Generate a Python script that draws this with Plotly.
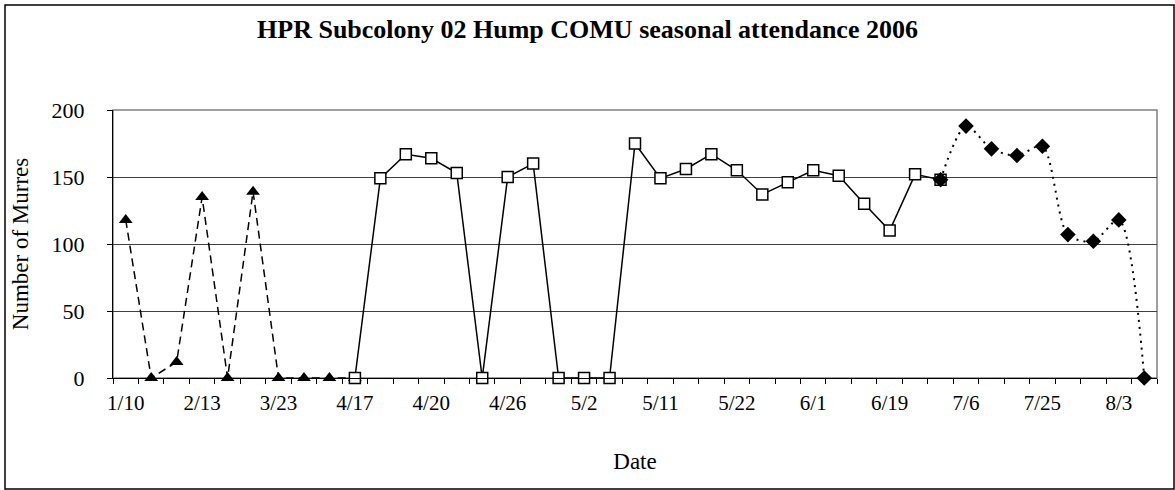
import plotly.graph_objects as go

# category axis: 41 survey dates, label shown on every third one
labels = ["1/10", "2/13", "3/23", "4/17", "4/20", "4/26", "5/2",
          "5/11", "5/22", "6/1", "6/19", "7/6", "7/25", "8/3"]
n_cat = 41

# three series (category index, count)
tri_x = list(range(1, 11))
tri_y = [118, 0, 12, 135, 0, 139, 0, 0, 0, 0]

sq_x = list(range(10, 34))
sq_y = [0, 149, 167, 164, 153, 0, 150, 160, 0, 0, 0, 175,
        149, 156, 167, 155, 137, 146, 155, 151, 130, 110, 152, 148]

dia_x = list(range(33, 42))
dia_y = [148, 188, 171, 166, 173, 107, 102, 118, 0]

font = "Liberation Serif"
W, H = 1175, 490
ml, mr, mt, mb = 113, 18, 110, 112

fig = go.Figure()

fig.add_trace(go.Scatter(
    x=tri_x, y=tri_y, mode="lines+markers", cliponaxis=False,
    line=dict(color="black", width=1.5, dash="8px,5px"),
    marker=dict(symbol="triangle-up", size=12, color="black"),
))
fig.add_trace(go.Scatter(
    x=sq_x, y=sq_y, mode="lines+markers", cliponaxis=False,
    line=dict(color="black", width=1.5),
    marker=dict(symbol="square", size=11, color="white",
                line=dict(color="black", width=1.5)),
))
fig.add_trace(go.Scatter(
    x=dia_x, y=dia_y, mode="lines+markers", cliponaxis=False,
    line=dict(color="black", width=2, dash="2px,5px", shape="spline", smoothing=0.8),
    marker=dict(symbol="diamond", size=12, color="black"),
))

tickvals = list(range(1, n_cat + 1, 3))
fig.update_xaxes(
    range=[0.5, n_cat + 0.5],
    tickmode="array", tickvals=tickvals, ticktext=labels,
    ticks="", showgrid=False, zeroline=False,
    showline=True, linecolor="black", linewidth=1,
    tickfont=dict(family=font, size=21, color="black"),
    ticklabelstandoff=6,
    minor=dict(tickmode="array", tickvals=[i + 0.5 for i in range(n_cat + 1)],
               ticks="outside", ticklen=5, tickcolor="black", showgrid=False),
    title=dict(text="Date", font=dict(family=font, size=23, color="black"), standoff=38),
)
fig.update_yaxes(
    range=[0, 200], tickvals=[0, 50, 100, 150, 200],
    ticks="outside", ticklen=5, tickcolor="black",
    showgrid=True, gridcolor="#404040", gridwidth=1, zeroline=False,
    showline=True, linecolor="black", linewidth=1,
    tickfont=dict(family=font, size=22, color="black"),
    ticklabelstandoff=18,
    title=dict(text="Number of Murres", font=dict(family=font, size=23, color="black"), standoff=16),
)

pw, ph = W - ml - mr, H - mt - mb


def px_x(p):
    return (p - ml) / pw


def px_y(p):
    return 1 - (p - mt) / ph


fig.update_layout(
    width=W, height=H,
    margin=dict(l=ml, r=mr, t=mt, b=mb),
    paper_bgcolor="white", plot_bgcolor="white",
    showlegend=False,
    title=dict(text="<b>HPR Subcolony 02 Hump COMU seasonal attendance 2006</b>",
               x=0.5, xanchor="center", y=1 - 29 / H, yanchor="middle",
               font=dict(family=font, size=26, color="black")),
    shapes=[
        # plot area border
        dict(type="rect", xref="paper", yref="paper", x0=0, x1=1, y0=0, y1=1,
             line=dict(color="#808080", width=1.5), layer="below"),
        # chart border
        dict(type="rect", xref="paper", yref="paper",
             x0=px_x(5), x1=px_x(1174), y0=px_y(489), y1=px_y(5),
             line=dict(color="black", width=1.5)),
    ],
)

# page has a default 8px body margin; drop it so the figure sits at 0,0
fig.write_html("out.html", config={"displayModeBar": False},
               post_script="document.body.style.margin='0';")
